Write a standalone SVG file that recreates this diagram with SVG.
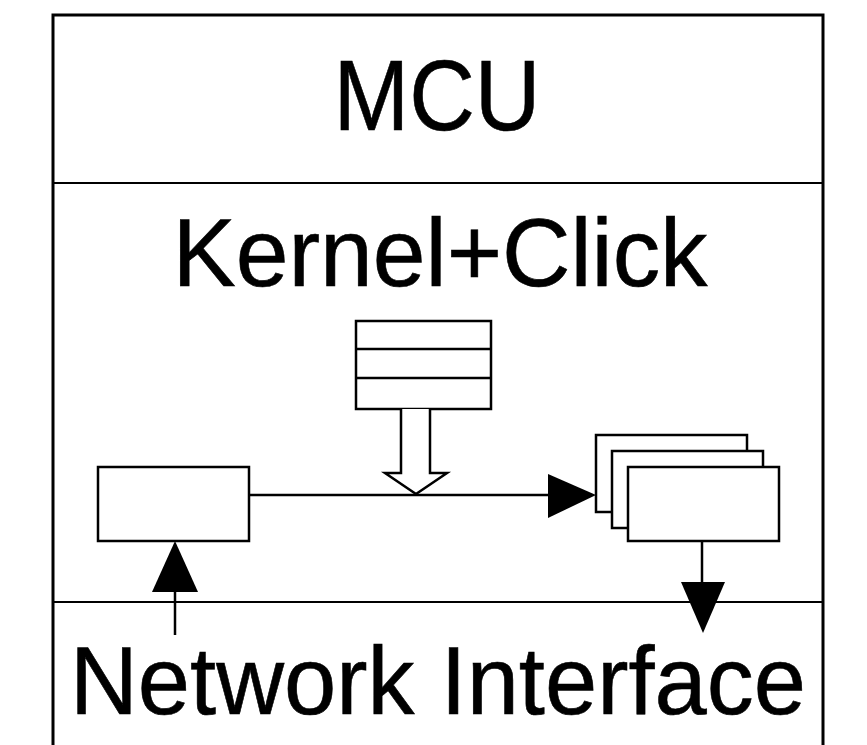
<svg xmlns="http://www.w3.org/2000/svg" width="867" height="745" viewBox="0 0 867 745">
  <style>
    .frame { fill: none; stroke: #000; stroke-width: 3; }
    .divider { fill: none; stroke: #000; stroke-width: 2; }
    .box { fill: #fff; stroke: #000; stroke-width: 2.5; }
    .line { fill: none; stroke: #000; stroke-width: 2.5; }
    .label { font-family: "Liberation Sans", Arial, sans-serif; fill: #000; stroke: #000; stroke-width: 0.6; text-anchor: middle; }
  </style>
  <rect width="867" height="745" fill="#fff"/>

  <!-- outer layer frame -->
  <g id="frame">
    <path class="frame" d="M53,745 V15 H823 V745"/>
    <line class="divider" x1="53" y1="183" x2="823" y2="183"/>
    <line class="divider" x1="53" y1="602" x2="823" y2="602"/>
  </g>

  <g id="mcu">
    <text class="label" x="437" y="130" font-size="100" textLength="207" lengthAdjust="spacingAndGlyphs">MCU</text>
  </g>

  <g id="kernel">
    <text class="label" x="440" y="286" font-size="96" textLength="535" lengthAdjust="spacingAndGlyphs">Kernel+Click</text>
  </g>

  <g id="network-interface">
    <text class="label" x="438" y="714" font-size="96" textLength="736" lengthAdjust="spacingAndGlyphs">Network Interface</text>
  </g>

  <!-- queue: three stacked slots -->
  <g id="queue">
    <rect class="box" x="356" y="321" width="135" height="88"/>
    <line class="line" x1="356" y1="349" x2="491" y2="349"/>
    <line class="line" x1="356" y1="378" x2="491" y2="378"/>
  </g>

  <g id="input-element">
    <rect class="box" x="98" y="467" width="151" height="74"/>
  </g>

  <g id="output-elements">
    <rect class="box" x="596" y="435" width="151" height="77"/>
    <rect class="box" x="612" y="451" width="151" height="77"/>
    <rect class="box" x="628" y="467" width="151" height="74"/>
  </g>

  <g id="connectors">
    <!-- main path from input to outputs -->
    <line class="line" x1="249" y1="495" x2="550" y2="495"/>
    <polygon points="548,474 596,495 548,518" fill="#000"/>

    <!-- hollow arrow from queue down to the path -->
    <path d="M401,409 V473 H385 L416,494 L447,473 H430 V409" fill="#fff" stroke="#000" stroke-width="2.5" stroke-linejoin="miter"/>

    <!-- network interface up into input element -->
    <line class="line" x1="175" y1="590" x2="175" y2="635"/>
    <polygon points="175,541 152,592 198,592" fill="#000"/>

    <!-- outputs down into network interface -->
    <line class="line" x1="702" y1="541" x2="702" y2="584"/>
    <polygon points="681,582 725,582 703,633" fill="#000"/>
  </g>
</svg>
